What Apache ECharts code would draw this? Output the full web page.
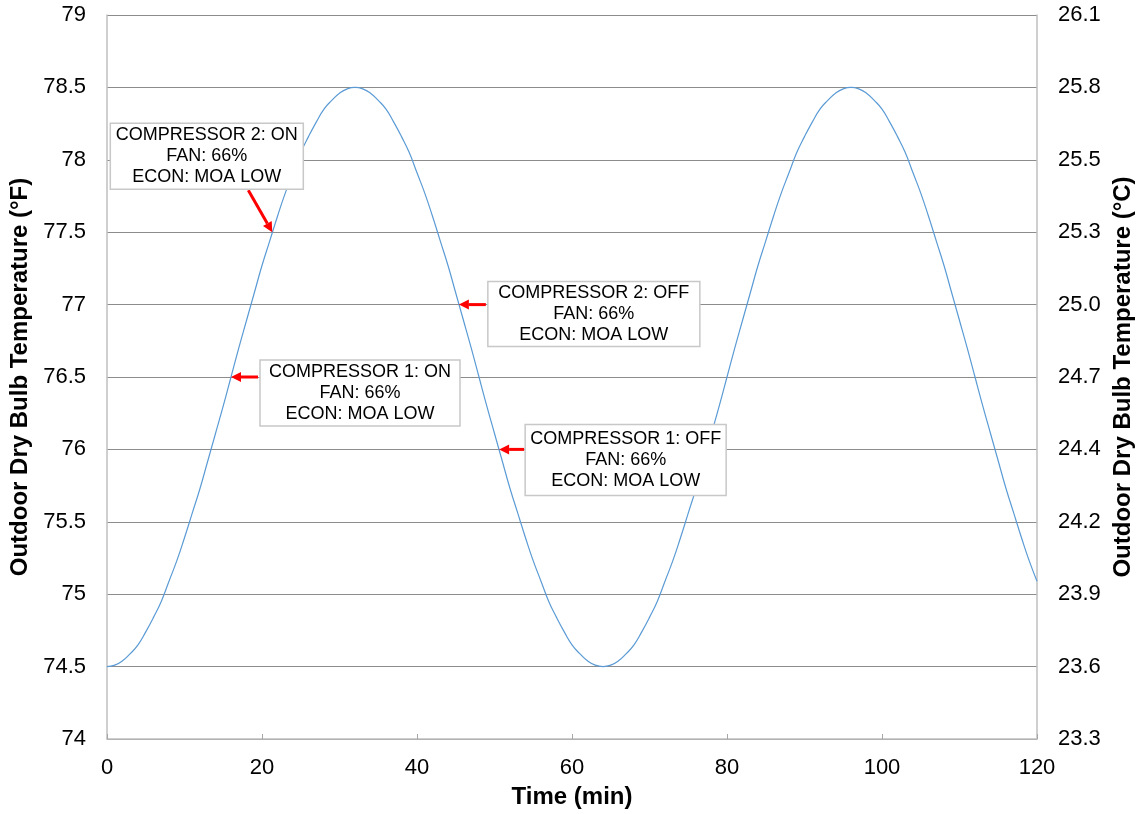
<!DOCTYPE html>
<html>
<head>
<meta charset="utf-8">
<script src="https://cdn.jsdelivr.net/npm/echarts@6/dist/echarts.min.js"></script>
<style>html,body{margin:0;padding:0;background:#fff}#c{width:1145px;height:814px}</style>
</head>
<body>
<div id="c"></div>
<script>
// ---- data ----
var timeMin = [0,1,2,3,4,5,6,7,8,9,10,11,12,13,14,15,16,17,18,19,20,21,22,23,24,25,26,27,28,29,30,31,32,33,34,35,36,37,38,39,40,41,42,43,44,45,46,47,48,49,50,51,52,53,54,55,56,57,58,59,60,61,62,63,64,65,66,67,68,69,70,71,72,73,74,75,76,77,78,79,80,81,82,83,84,85,86,87,88,89,90,91,92,93,94,95,96,97,98,99,100,101,102,103,104,105,106,107,108,109,110,111,112,113,114,115,116,117,118,119,120];
var tempF = [74.50,74.51,74.54,74.59,74.65,74.74,74.84,74.95,75.09,75.23,75.39,75.56,75.73,75.92,76.11,76.30,76.50,76.70,76.89,77.08,77.27,77.44,77.61,77.77,77.91,78.05,78.16,78.26,78.35,78.41,78.46,78.49,78.50,
  78.49,78.46,78.41,78.35,78.26,78.16,78.05,77.91,77.77,77.61,77.44,77.27,77.08,76.89,76.70,76.50,76.30,76.11,75.92,75.73,75.56,75.39,75.23,75.09,74.95,74.84,74.74,74.65,74.59,74.54,74.51,74.50,
  74.51,74.54,74.59,74.65,74.74,74.84,74.95,75.09,75.23,75.39,75.56,75.73,75.92,76.11,76.30,76.50,76.70,76.89,77.08,77.27,77.44,77.61,77.77,77.91,78.05,78.16,78.26,78.35,78.41,78.46,78.49,78.50,
  78.49,78.46,78.41,78.35,78.26,78.16,78.05,77.91,77.77,77.61,77.44,77.27,77.08,76.89,76.70,76.50,76.30,76.11,75.92,75.73,75.56,75.39,75.23,75.09];
var leftTicks = [74,74.5,75,75.5,76,76.5,77,77.5,78,78.5,79];
var rightTickLabels = ["23.3","23.6","23.9","24.2","24.4","24.7","25.0","25.3","25.5","25.8","26.1"];
var noteText = [
  ["COMPRESSOR 2: ON","FAN: 66%","ECON: MOA LOW"],
  ["COMPRESSOR 2: OFF","FAN: 66%","ECON: MOA LOW"],
  ["COMPRESSOR 1: ON","FAN: 66%","ECON: MOA LOW"],
  ["COMPRESSOR 1: OFF","FAN: 66%","ECON: MOA LOW"]
];
var noteTarget = [[21.33,77.5],[45.4,77],[16,76.5],[50.6,76]];

// ---- layout (pixel offsets of boxes relative to targets) ----
var noteLayout = [
  {bx:-162,by:-109,bw:193,bh:66,ax:-24,ay:-42},
  {bx:29,by:-23,bw:212,bh:65,ax:27,ay:0},
  {bx:29,by:-17,bw:200,bh:66,ax:27,ay:0},
  {bx:26,by:-25,bw:201,bh:71,ax:25,ay:0}
];

var FONT = '"Liberation Sans", Arial, sans-serif';
var chart = echarts.init(document.getElementById('c'));
var pts = timeMin.map(function(t,i){return [t,tempF[i]];});
chart.setOption({
  animation:false,
  grid:{left:107,right:108,top:15,bottom:75,containLabel:false,outerBoundsMode:'none'},
  xAxis:{type:'value',min:0,max:120,interval:20,
    name:'Time (min)',nameLocation:'middle',nameGap:46,
    nameTextStyle:{fontFamily:FONT,fontSize:24,fontWeight:'bold',color:'#000'},
    axisLine:{lineStyle:{color:'#bfbfbf',width:1.5}},
    axisTick:{show:true,inside:true,length:5,lineStyle:{color:'#a6a6a6'}},
    axisLabel:{fontFamily:FONT,fontSize:22,color:'#000',margin:18},
    splitLine:{show:false}},
  yAxis:[
    {type:'value',min:74,max:79,interval:0.5,position:'left',
     name:'Outdoor Dry Bulb Temperature (°F)',nameLocation:'middle',nameGap:73,nameRotate:90,
     nameTextStyle:{fontFamily:FONT,fontSize:24,fontWeight:'bold',color:'#000'},
     axisLine:{show:true,lineStyle:{color:'#bfbfbf',width:1.5}},
     axisTick:{show:false},
     axisLabel:{fontFamily:FONT,fontSize:22,color:'#000',margin:21,
       formatter:function(v){return String(Math.round(v*10)/10);}},
     splitLine:{show:true,lineStyle:{color:'#8c8c8c',width:1}}},
    {type:'value',min:74,max:79,interval:0.5,position:'right',
     name:'Outdoor Dry Bulb Temperature (°C)',nameLocation:'middle',nameGap:73,nameRotate:90,
     nameTextStyle:{fontFamily:FONT,fontSize:24,fontWeight:'bold',color:'#000'},
     axisLine:{show:true,lineStyle:{color:'#bfbfbf',width:1.5}},
     axisTick:{show:false},
     axisLabel:{fontFamily:FONT,fontSize:22,color:'#000',margin:21,
       formatter:function(v){var i=leftTicks.indexOf(Math.round(v*10)/10);return i>=0?rightTickLabels[i]:'';}},
     splitLine:{show:false}}
  ],
  series:[{type:'line',data:pts,smooth:true,showSymbol:false,symbol:'none',
    lineStyle:{color:'#5b9bd5',width:1.2},z:3}]
});

// annotations
var g = [];
noteTarget.forEach(function(tg,i){
  var p = chart.convertToPixel({gridIndex:0},tg);
  var L = noteLayout[i];
  var x0 = p[0]+L.ax, y0 = p[1]+L.ay, x1 = p[0], y1 = p[1];
  var ang = Math.atan2(y1-y0,x1-x0), hl=10, hw=5;
  var bx = x1-hl*Math.cos(ang), by = y1-hl*Math.sin(ang);
  g.push({type:'line',z:10,shape:{x1:x0,y1:y0,x2:bx,y2:by},style:{stroke:'#ff0000',lineWidth:3}});
  g.push({type:'polygon',z:10,shape:{points:[[x1,y1],[bx-hw*Math.sin(ang),by+hw*Math.cos(ang)],[bx+hw*Math.sin(ang),by-hw*Math.cos(ang)]]},style:{fill:'#ff0000'}});
  var rx = p[0]+L.bx, ry = p[1]+L.by;
  g.push({type:'rect',z:11,shape:{x:rx,y:ry,width:L.bw,height:L.bh},style:{fill:'#fff',stroke:'#c8c8c8',lineWidth:1.5}});
  g.push({type:'text',z:12,x:rx+L.bw/2,y:ry+L.bh/2,style:{text:noteText[i].join('\n'),fill:'#000',font:'18px '+FONT,align:'center',verticalAlign:'middle',lineHeight:21}});
});
chart.setOption({graphic:g});
</script>
</body>
</html>
